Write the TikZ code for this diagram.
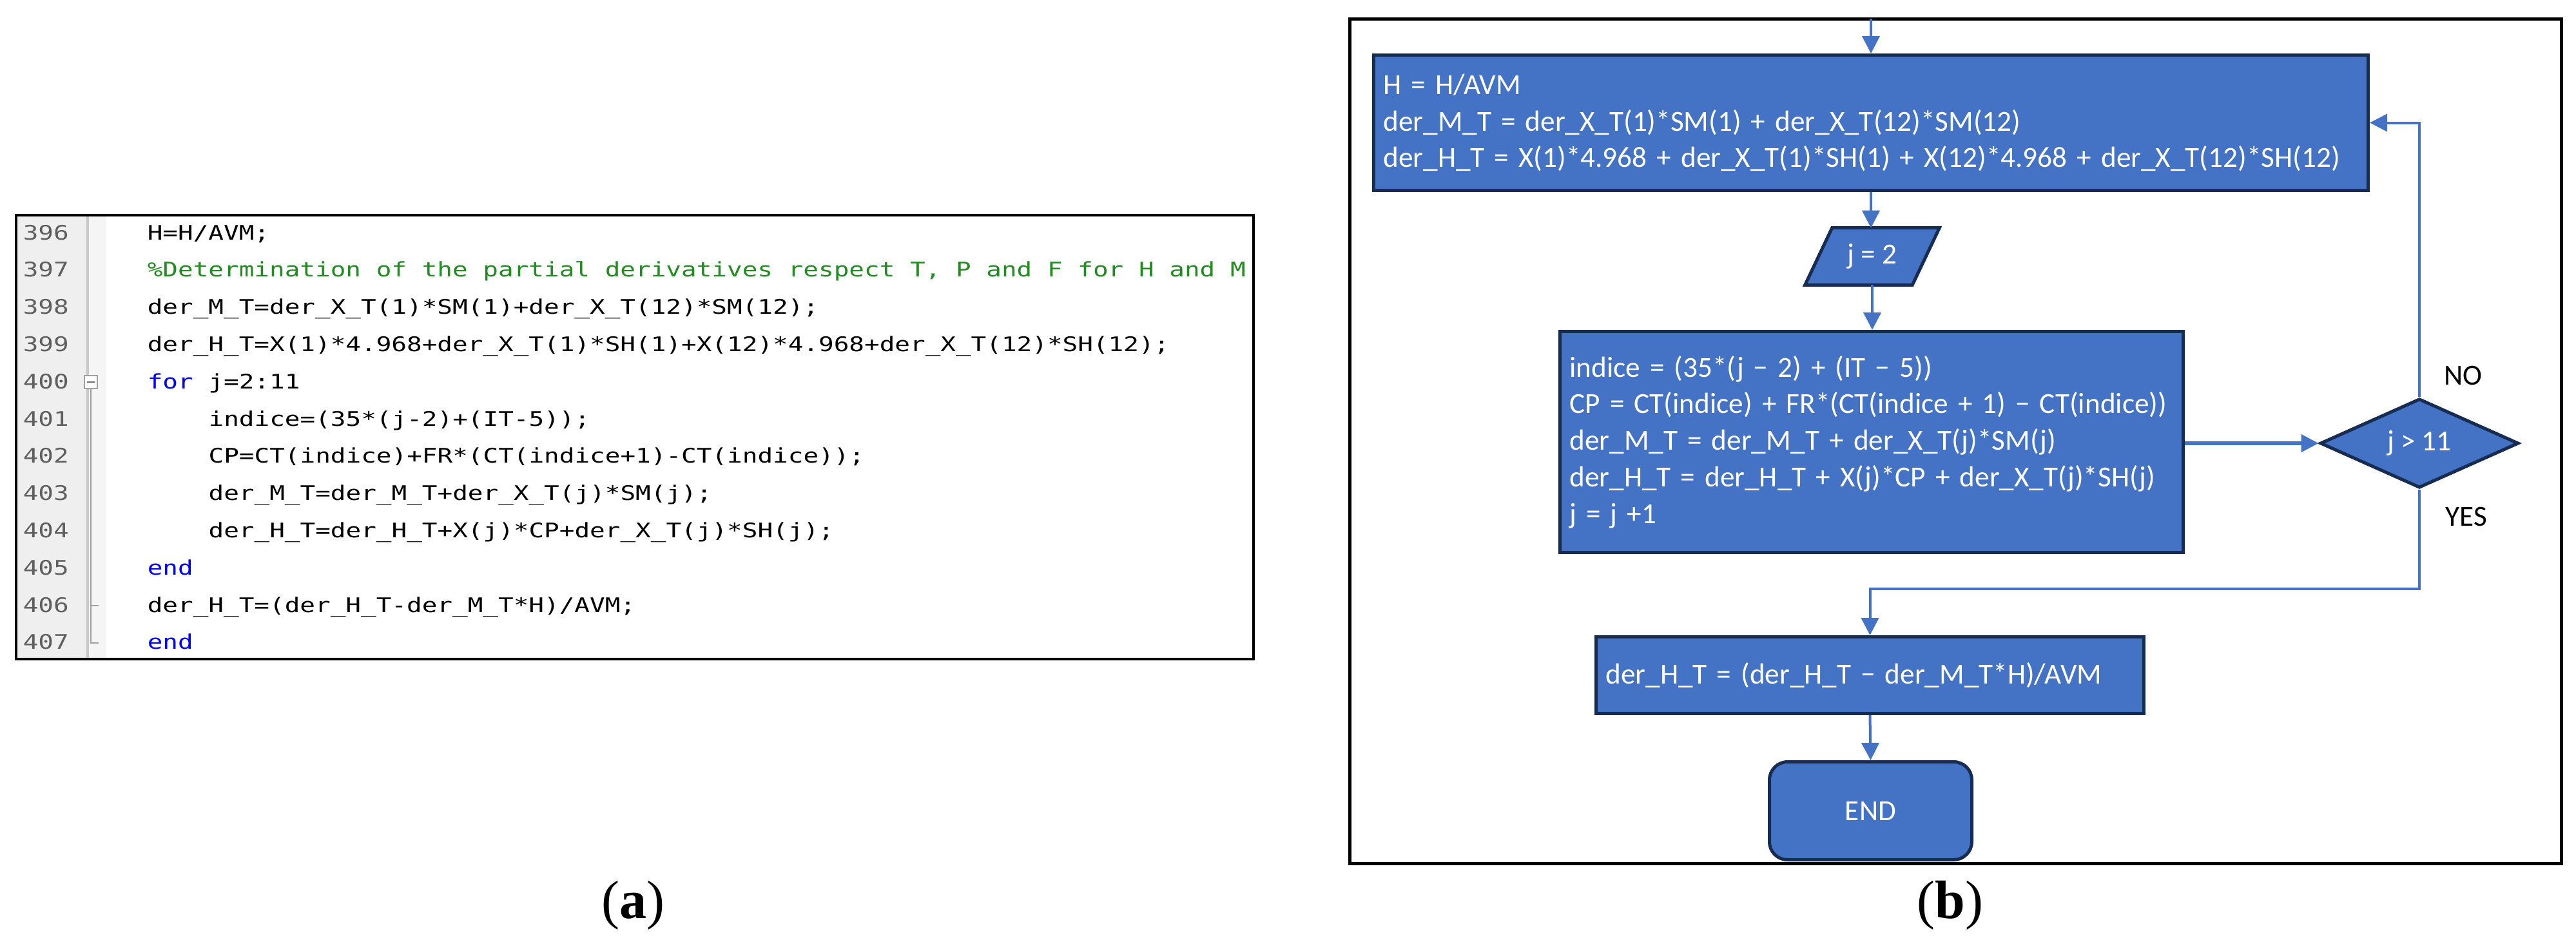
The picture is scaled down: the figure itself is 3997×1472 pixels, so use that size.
\documentclass[tikz,border=0pt]{standalone}
\usepackage{fontspec}
\usetikzlibrary{arrows.meta,shapes.geometric,calc,backgrounds}
\newfontfamily\flowfont{Carlito}
\newfontfamily\codefont[FakeStretch=1.26]{DejaVu Sans Mono}
\newfontfamily\capfont{Liberation Serif}
\definecolor{boxfill}{HTML}{4472C4}
\definecolor{boxline}{HTML}{172C51}
\definecolor{connc}{HTML}{4472C4}
\definecolor{cmt}{HTML}{228B22}
\definecolor{kw}{HTML}{0000FF}
\definecolor{lnum}{HTML}{5F5F5F}
\definecolor{gutter}{HTML}{EFEFEF}
\definecolor{strip}{HTML}{F5F5F5}
\definecolor{sepc}{HTML}{C8C8C8}
\definecolor{foldc}{HTML}{A0A0A0}
\begin{document}
\begin{tikzpicture}[x=0.25pt,y=-0.25pt,
  fbox/.style={draw=boxline, fill=boxfill, line width=1.25pt, text=white,
    font=\flowfont\fontsize{11.3}{14.2}\selectfont, inner sep=0pt},
  procbox/.style={fbox, rectangle, align=left, inner xsep=3.75pt},
  flowtext/.style={text=white, font=\flowfont\fontsize{11.3}{14.2}\selectfont, inner sep=0pt},
  lbl/.style={text=black, font=\flowfont\fontsize{11.3}{14.2}\selectfont, inner sep=0pt},
  connline/.style={draw=connc, line width=1pt, -{Triangle[length=6.75pt,width=6.75pt]}},
  codeline/.style={anchor=base west, inner sep=0pt, font=\codefont\fontsize{7.8}{9}\selectfont},
  numline/.style={codeline, text=lnum},
  caption/.style={font=\capfont\fontsize{21}{25}\selectfont, inner sep=0pt}]
\useasboundingbox (0,0) rectangle (3997,1472);

% ---------------- (a) code panel ----------------
\fill[gutter] (27,336) rectangle (134,1021);
\fill[strip] (138,336) rectangle (165,1021);
\draw[sepc, line width=1.2pt] (136,336) -- (136,1021);
\draw[line width=1.1pt] (25,334) rectangle (1945,1023);
% fold marks
\draw[foldc, line width=0.5pt] (141,603) -- (141,998) -- (153,998);
\draw[foldc, line width=0.5pt] (141,940) -- (153,940);
\draw[foldc, line width=0.5pt, fill=white] (131,583) rectangle (151,603);
\draw[foldc!70!black, line width=0.5pt] (135,593) -- (147,593);

\node[numline] (n396) at (35,372)    {396};
\node[numline] (n397) at (35,429.8)  {397};
\node[numline] (n398) at (35,487.6)  {398};
\node[numline] (n399) at (35,545.4)  {399};
\node[numline] (n400) at (35,603.2)  {400};
\node[numline] (n401) at (35,661)    {401};
\node[numline] (n402) at (35,718.8)  {402};
\node[numline] (n403) at (35,776.6)  {403};
\node[numline] (n404) at (35,834.4)  {404};
\node[numline] (n405) at (35,892.2)  {405};
\node[numline] (n406) at (35,950)    {406};
\node[numline] (n407) at (35,1007.8) {407};

\node[codeline] (c396) at (228,372)    {H=H/AVM;};
\node[codeline, text=cmt] (c397) at (228,429.8) {\%Determination of the partial derivatives respect T, P and F for H and M};
\node[codeline] (c398) at (228,487.6)  {der\_M\_T=der\_X\_T(1)*SM(1)+der\_X\_T(12)*SM(12);};
\node[codeline] (c399) at (228,545.4)  {der\_H\_T=X(1)*4.968+der\_X\_T(1)*SH(1)+X(12)*4.968+der\_X\_T(12)*SH(12);};
\node[codeline] (c400) at (228,603.2)  {{\color{kw}for} j=2:11};
\node[codeline] (c401) at (322.8,661)  {indice=(35*(j-2)+(IT-5));};
\node[codeline] (c402) at (322.8,718.8) {CP=CT(indice)+FR*(CT(indice+1)-CT(indice));};
\node[codeline] (c403) at (322.8,776.6) {der\_M\_T=der\_M\_T+der\_X\_T(j)*SM(j);};
\node[codeline] (c404) at (322.8,834.4) {der\_H\_T=der\_H\_T+X(j)*CP+der\_X\_T(j)*SH(j);};
\node[codeline, text=kw] (c405) at (228,892.2) {end};
\node[codeline] (c406) at (228,950)    {der\_H\_T=(der\_H\_T-der\_M\_T*H)/AVM;};
\node[codeline, text=kw] (c407) at (228,1007.8) {end};

\node[caption] (capa) at (982,1405) {(\textbf{a})};

% ---------------- (b) flowchart panel ----------------
\draw[line width=1.25pt] (2094,29) rectangle (3974,1340);

\node[procbox, text width=378.25pt, minimum height=52.5pt] (box1) at (2903,190.5)
  {\mbox{H = H/AVM}\\
   \mbox{der\_M\_T = der\_X\_T(1)*SM(1) + der\_X\_T(12)*SM(12)}\\
   \mbox{der\_H\_T = X(1)*4.968 + der\_X\_T(1)*SH(1) + X(12)*4.968 + der\_X\_T(12)*SH(12)}};

\node[flowtext, minimum width=51.75pt, minimum height=21.75pt] (para) at (2905,398) {j = 2};
\begin{scope}[on background layer]
\draw[draw=boxline, fill=boxfill, line width=1.25pt]
  ($(para.north west)+(42,0)$) -- (para.north east) -- ($(para.south east)-(42,0)$) -- (para.south west) -- cycle;
\end{scope}

\node[procbox, text width=234.25pt, minimum height=85.75pt] (box2) at (2904,686)
  {\mbox{indice = (35*(j − 2) + (IT − 5))}\\
   \mbox{CP = CT(indice) + FR*(CT(indice + 1) − CT(indice))}\\
   \mbox{der\_M\_T = der\_M\_T + der\_X\_T(j)*SM(j)}\\
   \mbox{der\_H\_T = der\_H\_T + X(j)*CP + der\_X\_T(j)*SH(j)}\\
   \mbox{j = j +1}};

\node[fbox, diamond, minimum width=77pt, minimum height=27.5pt] (dia) at (3754,688) {j > 11};

\node[procbox, text width=205pt, minimum height=29.75pt] (box3) at (2901.5,1048)
  {\mbox{der\_H\_T = (der\_H\_T − der\_M\_T*H)/AVM}};

\node[fbox, rectangle, rounded corners=7pt, minimum width=78.5pt, minimum height=38pt] (endn) at (2902.5,1258.5) {END};

\node[lbl] (nolbl) at (3822,583) {NO};
\node[lbl] (yeslbl) at (3827,802) {YES};

\coordinate (start) at (2903,29);
\coordinate (yesturn) at (3754,914);

\draw[connline] (start) -- (box1.north);
\draw[connline] (box1.south) -- (para.north -| box1.south);
\draw[connline] (para.south) -- (box2.north -| para.south);
\draw[connline, line width=1.3pt] (box2.east |- dia.west) -- (dia.west);
\draw[connline] (dia.north) |- (box1.east);
\draw[connline] (dia.south) -- (yesturn) -| (box3.north);
\draw[connline] (box3.south) -- (endn.north);

\node[caption] (capb) at (3026,1405) {(\textbf{b})};
\end{tikzpicture}
\end{document}
